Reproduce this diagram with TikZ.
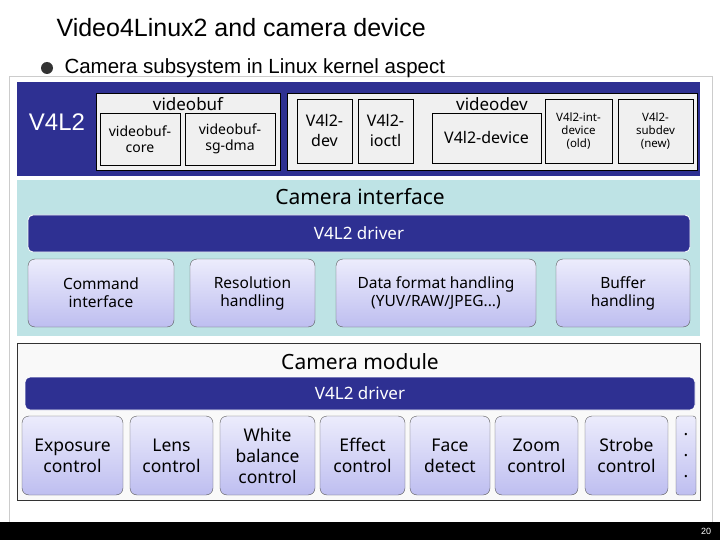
\documentclass[tikz,border=0pt]{standalone}
\usepackage{fontspec}
\setmainfont{Liberation Sans}
\newfontfamily\boxfont{Noto Sans}
\usetikzlibrary{positioning}
\definecolor{bandblue}{RGB}{46,48,146}
\definecolor{teal}{RGB}{190,227,229}
\definecolor{lavtop}{RGB}{236,236,252}
\definecolor{lavbot}{RGB}{190,190,240}
\begin{document}
\begin{tikzpicture}[x=1pt,y=-1pt]
		\tikzstyle{GrayBox} = [rectangle, draw=black, thick, fill=gray!12, inner sep=0pt]
		\tikzstyle{Cell} = [rectangle, draw=black, thick, fill=gray!12, align=center, font=\boxfont\fontsize{14}{16}\selectfont, inner sep=0pt]
		\tikzstyle{SmallCell} = [Cell, font=\boxfont\fontsize{11.5}{13}\selectfont]
		\tikzstyle{DriverBar} = [rectangle, rounded corners=5pt, fill=bandblue, draw=white, thick, text=white, font=\boxfont\fontsize{17}{19}\selectfont\bfseries]
		\tikzstyle{Block} = [rectangle, rounded corners=7pt, draw=gray!70!black, top color=lavtop, bottom color=lavbot, align=center, font=\boxfont\fontsize{15.5}{18}\selectfont, inner sep=0pt]
		\tikzstyle{BigBlock} = [Block, font=\boxfont\fontsize{17.5}{21}\selectfont]
		\tikzstyle{Caption} = [font=\boxfont\fontsize{21}{23}\selectfont]

		% background and slide frame
		\fill[white] (0,0) rectangle (720,540);
		\draw[gray!40, thick] (9,76) rectangle (712,523);
		\node (title) [anchor=west, font=\fontsize{25}{28}\selectfont] at (53,28) {Video4Linux2 and camera device};
		\fill[black!80] (47,68) circle (6);
		\node (bullet) [anchor=west, font=\fontsize{20.5}{23}\selectfont] at (61,68) {Camera subsystem in Linux kernel aspect};

		% V4L2 band
		\fill[bandblue] (17,82) rectangle (700,176);
		\node (v4ltwo) [text=white, font=\fontsize{24}{26}\selectfont] at (57,122) {V4L2};
		\node (videobuf) [GrayBox, minimum width=184, minimum height=77] at (188,131.5) {};
		\node [font=\boxfont\fontsize{17}{18}\selectfont] at (188,104) {videobuf};
		\node (vbcore) [Cell, minimum width=80, minimum height=52] at (140,139) {videobuf-\\core};
		\node (vbsg) [Cell, minimum width=90, minimum height=52] at (230,139) {videobuf-\\sg-dma};
		\node (videodev) [GrayBox, minimum width=410, minimum height=77] at (492,131.5) {};
		\node [font=\boxfont\fontsize{17}{18}\selectfont] at (492,104) {videodev};
		\node (v4ldev) [Cell, minimum width=55, minimum height=64, font=\boxfont\fontsize{16}{20}\selectfont] at (324.5,131) {V4l2-\\dev};
		\node (v4lioctl) [Cell, minimum width=55, minimum height=64, font=\boxfont\fontsize{16}{20}\selectfont] at (385.5,131) {V4l2-\\ioctl};
		\node (v4ldevice) [Cell, minimum width=109, minimum height=50, font=\boxfont\fontsize{16}{20}\selectfont] at (486.5,138) {V4l2-device};
		\node (v4lint) [SmallCell, minimum width=67, minimum height=64] at (578.5,131) {V4l2-int-\\device\\(old)};
		\node (v4lsub) [SmallCell, minimum width=75, minimum height=64] at (655.5,131) {V4l2-\\subdev\\(new)};

		% camera interface
		\fill[teal] (17,180) rectangle (700,336);
		\node (camif) [Caption] at (360,197) {Camera interface};
		\node (ifdriver) [DriverBar, minimum width=662, minimum height=37] at (359,233.5) {V4L2 driver};
		\node (command) [Block, minimum width=146, minimum height=68] at (101,293) {Command\\interface};
		\node (resolution) [Block, minimum width=125, minimum height=68] at (252.5,293) {Resolution\\handling};
		\node (dataformat) [Block, minimum width=200, minimum height=68] at (436,293) {Data format handling\\(YUV/RAW/JPEG...)};
		\node (buffer) [Block, minimum width=134, minimum height=68] at (623,293) {Buffer\\handling};

		% camera module
		\draw[black!80, thick, fill=gray!5] (17,343) rectangle (700,500);
		\node (cammod) [Caption] at (360,362) {Camera module};
		\node (moddriver) [DriverBar, minimum width=670, minimum height=33] at (360,393.5) {V4L2 driver};
		\node (exposure) [BigBlock, minimum width=101, minimum height=79] at (72.5,455.5) {Exposure\\control};
		\node (lens) [BigBlock, minimum width=83, minimum height=79] at (171.5,455.5) {Lens\\control};
		\node (white) [BigBlock, minimum width=95, minimum height=79] at (267.5,455.5) {White\\balance\\control};
		\node (effect) [BigBlock, minimum width=85, minimum height=79] at (362.5,455.5) {Effect\\control};
		\node (face) [BigBlock, minimum width=80, minimum height=79] at (450,455.5) {Face\\detect};
		\node (zoom) [BigBlock, minimum width=83, minimum height=79] at (536.5,455.5) {Zoom\\control};
		\node (strobe) [BigBlock, minimum width=83, minimum height=79] at (626.5,455.5) {Strobe\\control};
		\node (more) [BigBlock, rounded corners=3pt, minimum width=20, minimum height=79] at (686,455.5) {.\\.\\.};

		% footer
		\fill[black] (0,522) rectangle (720,540);
		\node (page) [text=white, font=\fontsize{9}{10}\selectfont] at (706,531) {20};
		\end{tikzpicture}
\end{document}
